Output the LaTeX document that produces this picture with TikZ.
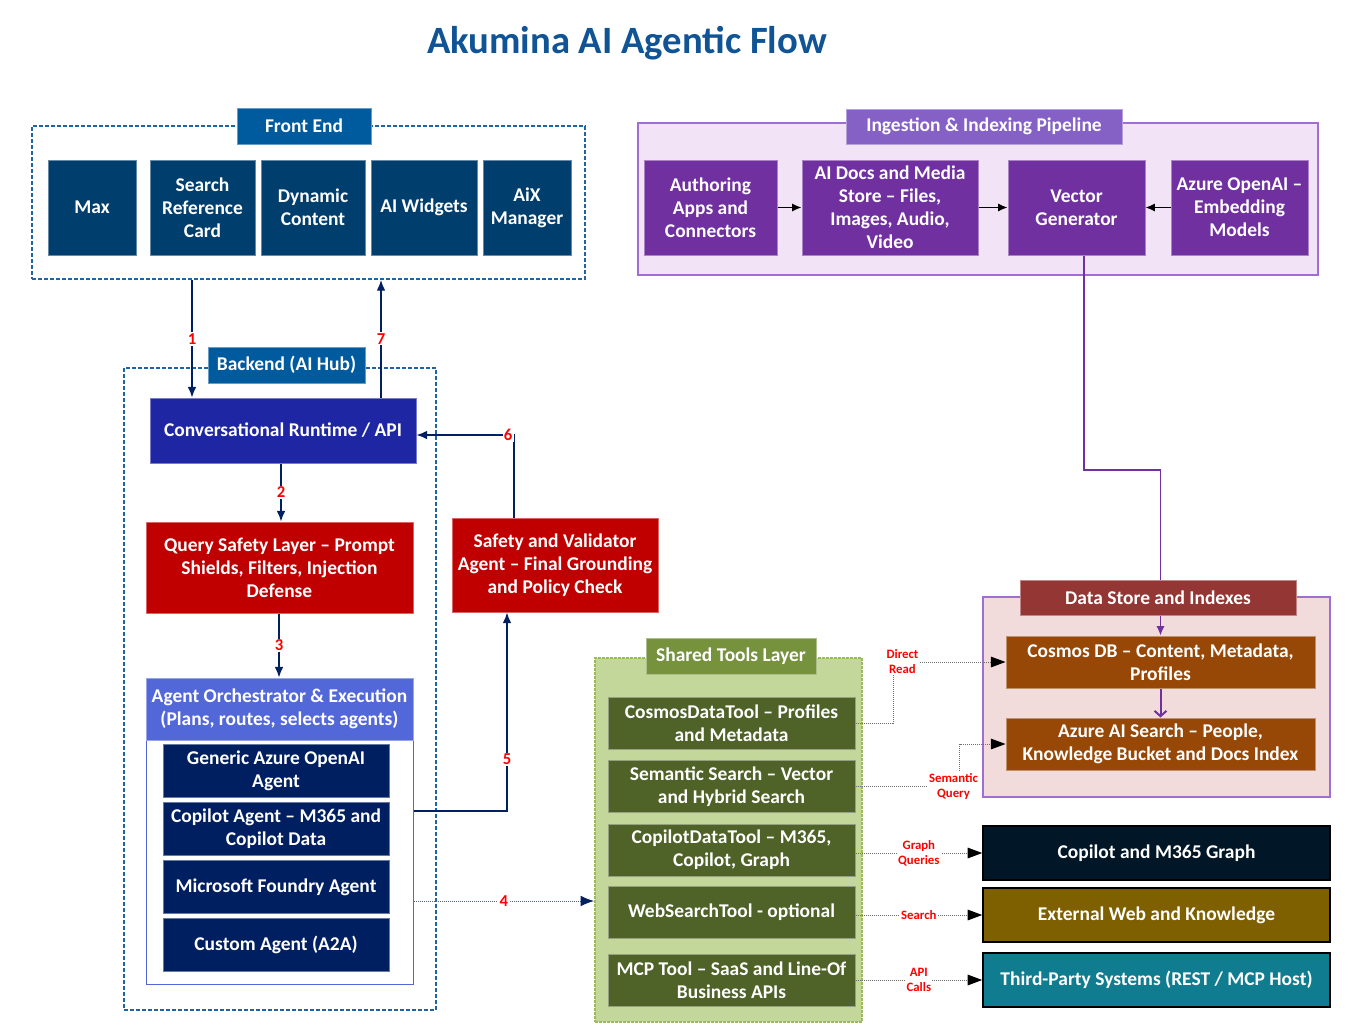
\documentclass[tikz,border=0pt]{standalone}
\usepackage{fontspec}
\setmainfont{Carlito}
\usepackage{tikz}
\usetikzlibrary{arrows.meta,positioning,fit}
\definecolor{navy}{RGB}{0,32,96}
\definecolor{titleblue}{RGB}{16,84,150}
\definecolor{tagblue}{RGB}{0,90,158}
\definecolor{dashblue}{RGB}{31,100,165}
\definecolor{feblue}{RGB}{0,62,110}
\definecolor{convblue}{RGB}{31,38,163}
\definecolor{alertred}{RGB}{192,0,0}
\definecolor{orchblue}{RGB}{83,104,216}
\definecolor{agentnavy}{RGB}{0,31,96}
\definecolor{ingpurple}{RGB}{112,48,160}
\definecolor{ingtagc}{RGB}{134,97,197}
\definecolor{inglight}{RGB}{242,228,246}
\definecolor{ingedge}{RGB}{160,110,210}
\definecolor{toolgreen}{RGB}{79,98,40}
\definecolor{tooltagc}{RGB}{118,146,60}
\definecolor{toolbg}{RGB}{196,215,155}
\definecolor{tooledge}{RGB}{155,187,89}
\definecolor{dsbg}{RGB}{242,220,219}
\definecolor{dstagc}{RGB}{148,54,52}
\definecolor{storebrown}{RGB}{152,72,6}
\definecolor{cgnavy}{RGB}{1,22,38}
\definecolor{ewolive}{RGB}{127,96,0}
\definecolor{tpteal}{RGB}{16,124,144}
\definecolor{dotgray}{RGB}{110,110,110}
\pgfdeclarelayer{back}
\pgfdeclarelayer{wires}
\pgfsetlayers{back,wires,main}

\begin{document}
\begin{tikzpicture}[
  x=0.75pt, y=-0.75pt,
  font=\bfseries\fontsize{14.6}{17.3}\selectfont,
  blk/.style={fill=#1, draw=#1!60!white, line width=0.75pt, text=white,
              align=center, inner sep=2pt},
  tag/.style={blk=#1, minimum height=27pt},
  fe/.style={blk=feblue, minimum height=71.25pt},
  ing/.style={blk=ingpurple, minimum height=71.25pt},
  agent/.style={blk=agentnavy, minimum width=169.5pt, minimum height=39.75pt},
  tool/.style={blk=toolgreen, minimum width=185.25pt, minimum height=39pt},
  store/.style={blk=storebrown, minimum width=231.75pt, minimum height=39pt},
  ext/.style={fill=#1, draw=black, line width=1.2pt, text=white, align=center,
              minimum width=260.25pt, minimum height=40.5pt},
  grp/.style={inner sep=0pt},
  dashbox/.style={draw=dashblue, line width=1.5pt, dash pattern=on 3pt off 1.5pt},
  flow/.style={-{Latex[length=8pt,width=6.5pt]}, navy, line width=1pt},
  flowdot/.style={flow, draw=gray!70!navy, line width=0.75pt,
                  dash pattern=on 0.75pt off 0.75pt, -{Latex[length=10pt,width=8pt,color=navy]}},
  num/.style={font=\bfseries\fontsize{12.5}{14}\selectfont, text=red, fill=white, inner sep=1pt},
  dots/.style={-{Triangle[length=11pt,width=8pt,color=black]}, dotgray, line width=0.75pt,
               dash pattern=on 0.75pt off 0.75pt},
  lbl/.style={font=\bfseries\fontsize{9.6}{11.2}\selectfont, text=red, fill=white,
              align=center, inner sep=1pt},
  blkarr/.style={-{Latex[length=7pt,width=6pt]}, black, line width=1pt},
  pline/.style={-{Latex[length=7pt,width=6pt]}, ingpurple, line width=1pt}
]
  \useasboundingbox (0,0) rectangle (1371,1033);

  \begin{pgfonlayer}{back}
    \node[grp, dashbox, fit={(32,126) (585,279)}] (fe) {};
    \node[grp, fill=inglight, draw=ingedge, line width=1.5pt, fit={(638,123) (1318,275)}] (ingf) {};
    \node[grp, dashbox, fit={(124,368) (436,1010)}] (be) {};
    \node[grp, fill=white, draw=orchblue, line width=0.75pt, fit={(146,678) (413,984)}] (orch) {};
    \node[grp, fill=toolbg, draw=tooledge, line width=1.5pt, dash pattern=on 2pt off 1pt,
          fit={(595,658) (862,1022)}] (st) {};
    \node[grp, fill=dsbg, draw=ingedge, line width=1.5pt, fit={(983,597) (1330,797)}] (ds) {};
  \end{pgfonlayer}

  \node[font=\bfseries\fontsize{29}{34}\selectfont, text=titleblue] (title) at (627,43)
    {Akumina AI Agentic Flow};

  \node[tag=tagblue, minimum width=100.5pt] (fetag) at (304,126) {Front End};
  \node[fe, minimum width=66pt] (max) at (92,207.5) {Max};
  \node[fe, minimum width=78.75pt, right=9.75pt of max] (src) {Search\\Reference\\Card};
  \node[fe, minimum width=78pt, right=3.75pt of src] (dyn) {Dynamic\\Content};
  \node[fe, minimum width=79.5pt, right=3.75pt of dyn] (wid) {AI Widgets};
  \node[fe, minimum width=66pt, right=3.75pt of wid] (aix) {AiX\\Manager};

  \node[tag=ingtagc, minimum width=207pt, minimum height=26.25pt] (ingtag) at (984,126.5)
    {Ingestion \& Indexing Pipeline};
  \node[ing, minimum width=99.75pt] (auth) at (710.5,207.5) {Authoring\\Apps and\\Connectors};
  \node[ing, minimum width=132pt, inner ysep=0pt, right=18pt of auth] (docs)
    {AI Docs and Media\\Store – Files,\\Images, Audio,\\Video};
  \node[ing, minimum width=102.75pt, right=21.75pt of docs] (vec) {Vector\\Generator};
  \node[ing, minimum width=102.75pt, right=18.75pt of vec] (emb) {Azure OpenAI –\\Embedding\\Models};

  \node[tag=tagblue, minimum width=117.75pt] (betag) at (286.5,365) {Backend (AI Hub)};
  \node[blk=convblue, minimum width=199.5pt, minimum height=48.75pt] (conv) at (283,430.5)
    {Conversational Runtime / API};
  \node[blk=alertred, minimum width=200.25pt, minimum height=68.25pt] (qsl) at (279.5,567.5)
    {Query Safety Layer – Prompt\\Shields, Filters, Injection\\Defense};
  \node[blk=alertred, minimum width=154.5pt, minimum height=70.5pt] (sva) at (555,565)
    {Safety and Validator\\Agent – Final Grounding\\and Policy Check};

  \node[blk=orchblue, minimum width=200.25pt, minimum height=46.5pt, anchor=north] (orchhead)
    at (orch.north) {Agent Orchestrator \& Execution\\(Plans, routes, selects agents)};
  \node[agent, below=2.5pt of orchhead, xshift=-2.6pt] (ag1) {Generic Azure OpenAI\\Agent};
  \node[agent, below=3pt of ag1] (ag2) {Copilot Agent – M365 and\\Copilot Data};
  \node[agent, below=3pt of ag2] (ag3) {Microsoft Foundry Agent};
  \node[agent, below=3pt of ag3] (ag4) {Custom Agent (A2A)};

  \node[tag=tooltagc, minimum width=127.5pt] (sttag) at (731,656) {Shared Tools Layer};
  \node[tool] (t1) at (731.5,723.5) {CosmosDataTool – Profiles\\and Metadata};
  \node[tool] (t2) at (731.5,786.5) {Semantic Search – Vector\\and Hybrid Search};
  \node[tool] (t3) at (731.5,850) {CopilotDataTool – M365,\\Copilot, Graph};
  \node[tool] (t4) at (731.5,912) {WebSearchTool - optional};
  \node[tool] (t5) at (731.5,980) {MCP Tool – SaaS and Line-Of\\Business APIs};

  \node[tag=dstagc, minimum width=207pt, minimum height=26.25pt] (dstag) at (1158,597.5)
    {Data Store and Indexes};
  \node[store] (cos) at (1160.5,662) {Cosmos DB – Content, Metadata,\\Profiles};
  \node[store] (ais) at (1160.5,744) {Azure AI Search – People,\\Knowledge Bucket and Docs Index};

  \node[ext=cgnavy] (cg) at (1156.5,853) {Copilot and M365 Graph};
  \node[ext=ewolive] (ew) at (1156.5,915) {External Web and Knowledge};
  \node[ext=tpteal] (tp) at (1156.5,980) {Third-Party Systems (REST / MCP Host)};

  \draw[blkarr] (auth.east) -- (auth.east -| docs.west);
  \draw[blkarr] (docs.east |- vec.west) -- (vec.west);
  \draw[blkarr] (emb.west) -- (emb.west -| vec.east);

  \begin{pgfonlayer}{wires}
    \draw[pline] (vec.south -| 1084,0) |- (cos.north |- 0,470) -- (cos.north);
  \end{pgfonlayer}
  \draw[ingpurple, line width=1.5pt, -{Straight Barb[length=4pt,width=9pt]}] (cos.south) -- (ais.north);

  \draw[flow] (fe.south -| 192,0) -- node[num] {1} (conv.north -| 192,0);
  \draw[flow] (conv.north -| 381,0) -- node[num] {7} (fe.south -| 381,0);
  \draw[flow] (conv.south -| 281,0) -- node[num] {2} (qsl.north -| 281,0);
  \draw[flow] (qsl.south -| 279,0) -- node[num] {3} (orch.north -| 279,0);
  \draw[flowdot] (orch.east |- 0,901) -- node[num] {4} (st.west |- 0,901);
  \draw[flow] (orch.east |- 0,811) -| node[num, pos=0.63] {5} (sva.south -| 507,0);
  \draw[flow] (sva.north -| 514,0) |- node[num, pos=0.53] {6} (conv.east |- 0,435);

  \draw[dots] (t1.east) -- ++(38,0) |- node[lbl, pos=0.5, xshift=6.75pt] {Direct\\Read} (cos.west);
  \draw[dots] (t2.east) -- ++(104,0) node[lbl, xshift=-4.5pt] {Semantic\\Query} |- (ais.west);
  \draw[dots] (t3.east |- cg.west) -- node[lbl] {Graph\\Queries} (cg.west);
  \draw[dots] (t4.east |- ew.west) -- node[lbl] {Search} (ew.west);
  \draw[dots] (t5.east |- tp.west) -- node[lbl] {API\\Calls} (tp.west);
\end{tikzpicture}
\end{document}
